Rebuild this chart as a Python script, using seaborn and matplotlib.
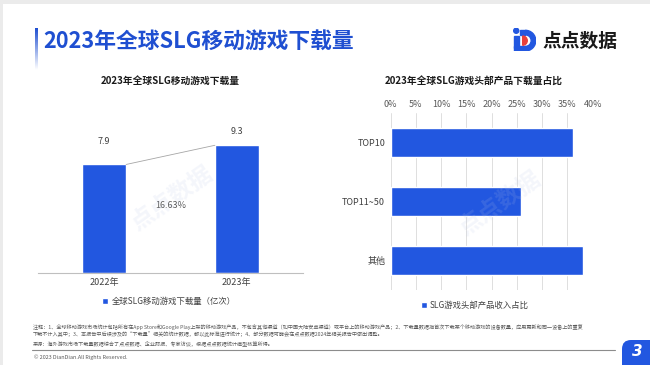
import matplotlib
matplotlib.use('Agg')
import matplotlib.pyplot as plt
import seaborn as sns
import numpy as np
import pandas as pd
from matplotlib.patches import Patch, Rectangle, FancyBboxPatch, Wedge, Circle
from matplotlib.lines import Line2D
from matplotlib.colors import LinearSegmentedColormap
from matplotlib.transforms import IdentityTransform

# data
years = ['2022年', '2023年']
downloads = [7.9, 9.3]
growth_label = '16.63%'
tiers = ['TOP10', 'TOP11~50', '其他']
share = [36.0, 25.9, 38.1]
share_ticks = [0, 5, 10, 15, 20, 25, 30, 35, 40]

BLUE = '#2257E0'
TITLE_BLUE = '#1F4FD1'
W, H = 650, 365

sns.set_theme(style='white')
plt.rcParams['font.family'] = ['Noto Sans CJK SC', 'DejaVu Sans']


def box(x0, y0, x1, y1):
    # pixel box (image coords, y down) -> figure fraction
    return [x0 / W, 1 - y1 / H, (x1 - x0) / W, (y1 - y0) / H]


def fy(y):
    return 1 - y / H


fig = plt.figure(figsize=(6.5, 3.65), dpi=100)
fig.patch.set_facecolor('#EBEBEB')
fig.add_artist(Rectangle((3, 0), 660, 361, transform=IdentityTransform(),
                         facecolor='white', edgecolor='none', zorder=-5))

# header
ax_g = fig.add_axes(box(35, 28, 38, 70))
ax_g.imshow(np.linspace(0, 1, 60).reshape(-1, 1), aspect='auto',
            cmap=LinearSegmentedColormap.from_list('fade', [TITLE_BLUE, 'white']))
ax_g.axis('off')
fig.text(43 / W, fy(41), '2023年全球SLG移动游戏下载量', fontsize=15.7, fontweight='bold',
         color=TITLE_BLUE, va='center', ha='left')

# logo
ax_l = fig.add_axes(box(513, 28, 536, 51))
ax_l.set_xlim(0, 1)
ax_l.set_ylim(0, 1)
ax_l.set_aspect('equal')
ax_l.axis('off')
ax_l.add_patch(Circle((0.14, 0.88), 0.11, color=BLUE))
ax_l.add_patch(Rectangle((0.04, 0.12), 0.2, 0.55, color=BLUE))
ax_l.add_patch(Rectangle((0.04, 0.0), 0.5, 0.2, color=BLUE))
ax_l.add_patch(Rectangle((0.32, 0.7), 0.22, 0.2, color=BLUE))
ax_l.add_patch(Wedge((0.54, 0.45), 0.45, -90, 90, width=0.2, color=BLUE))
ax_l.add_patch(Wedge((0.42, 0.45), 0.2, -90, 90, color='#E8403A'))
fig.text(542 / W, fy(41), '点点数据', fontsize=13.5, fontweight='bold',
         color='#1A1A1A', va='center', ha='left')

# left chart: downloads
ax1 = fig.add_axes(box(38, 135.7, 303, 272.7))
df1 = pd.DataFrame({'year': years, 'downloads': downloads})
sns.barplot(data=df1, x='year', y='downloads', color=BLUE, saturation=1,
            width=0.33, ax=ax1)
ax1.set_xlim(-0.5, 1.5)
ax1.set_ylim(0, 10)
ax1.set_yticks([])
ax1.set_xlabel('')
ax1.set_ylabel('')
for s in ['top', 'left', 'right']:
    ax1.spines[s].set_visible(False)
ax1.spines['bottom'].set_color('#BFBFBF')
ax1.spines['bottom'].set_linewidth(0.8)
ax1.tick_params(axis='x', length=0, pad=4, labelsize=6.5, labelcolor='#404040')
for i, (v, off) in enumerate(zip(downloads, [16.5, 9.8])):
    ax1.annotate(f'{v}', (i, v), xytext=(0, off), textcoords='offset points',
                 ha='center', va='center', fontsize=6.5, color='#404040')
ax1.plot([0 + 0.165, 1 - 0.165], downloads, color='#A6A6A6', lw=0.6)
ax1.text(0.5, 4.9, growth_label, ha='center', va='center', fontsize=6.5, color='#595959')
fig.text(170 / W, fy(81), '2023年全球SLG移动游戏下载量', fontsize=7, fontweight='bold',
         color='#1A1A1A', ha='center', va='center')
fig.legend(handles=[Patch(facecolor=BLUE, label='全球SLG移动游戏下载量（亿次）')],
           loc='center', bbox_to_anchor=(169 / W, fy(301)), frameon=False, fontsize=6,
           handlelength=0.7, handleheight=0.7, handletextpad=0.4, labelcolor='#404040')

# right chart: share of top products
ax2 = fig.add_axes(box(390.7, 113.3, 592.7, 290))
sns.barplot(x=share, y=tiers, orient='h', color=BLUE, saturation=1, width=0.49, ax=ax2)
ax2.set_xlim(0, 40)
ax2.set_xticks(share_ticks)
ax2.set_xticklabels([f'{t}%' for t in share_ticks])
ax2.xaxis.tick_top()
ax2.tick_params(axis='x', length=0, pad=3, labelsize=6.5, labelcolor='#595959')
ax2.tick_params(axis='y', length=0, pad=4, labelsize=6.5, labelcolor='#404040')
ax2.grid(axis='x', color='#D9D9D9', lw=0.6)
ax2.set_axisbelow(True)
for s in ax2.spines.values():
    s.set_visible(False)
ax2.set_xlabel('')
ax2.set_ylabel('')
fig.text(474 / W, fy(81), '2023年全球SLG游戏头部产品下载量占比', fontsize=7, fontweight='bold',
         color='#1A1A1A', ha='center', va='center')
fig.legend(handles=[Patch(facecolor=BLUE, label='SLG游戏头部产品收入占比')],
           loc='center', bbox_to_anchor=(475 / W, fy(305)), frameon=False, fontsize=6,
           handlelength=0.7, handleheight=0.7, handletextpad=0.4, labelcolor='#404040')

# faint watermarks
for cx, cy in [(172, 198), (500, 203)]:
    fig.text(cx / W, fy(cy), '点点数据', rotation=35, fontsize=17, fontweight='bold',
             color='#B8C4E6', alpha=0.15, ha='center', va='center')

# footer notes
notes = [
    '注释：1、全球移动游戏市场统计包括所有在App Store和Google Play上架的移动游戏产品，不包含其他渠道（如中国大陆安卓渠道）或平台上的移动游戏产品；2、下载量数据指首次下载某个移动游戏的设备数量，应用更新和同一设备上的重复',
    '下载不计入其中；3、本报告中后续涉及的“下载量”相关的统计数据，都以此标准进行统计；4、部分数据可能会在点点数据2024年相关报告中做出调整。',
    '来源：海外游戏市场下载量数据综合了点点数据、企业财报、专家访谈，根据点点数据统计模型核算所得。',
]
for y, line in zip([326.7, 334.7, 343], notes):
    fig.text(33 / W, fy(y), line, fontsize=3.7, color='#595959', ha='left', va='center')
fig.add_artist(Line2D([32 / W, 615 / W], [fy(349.7), fy(349.7)], color='#8C8C8C', lw=0.8))
fig.text(34 / W, fy(357.3), '© 2023 DianDian.All Rights Reserved.', fontsize=3.9,
         color='#595959', ha='left', va='center')

# page badge
fig.add_artist(FancyBboxPatch((622, -12), 45, 37, transform=IdentityTransform(),
                              boxstyle='round,pad=0,rounding_size=9',
                              facecolor=BLUE, edgecolor='none'))
fig.text(637 / W, fy(352), '3', fontsize=11, fontstyle='italic', fontweight='bold',
         color='white', ha='center', va='center', family='DejaVu Sans')

fig.savefig('out.png', dpi=100)
plt.close(fig)
